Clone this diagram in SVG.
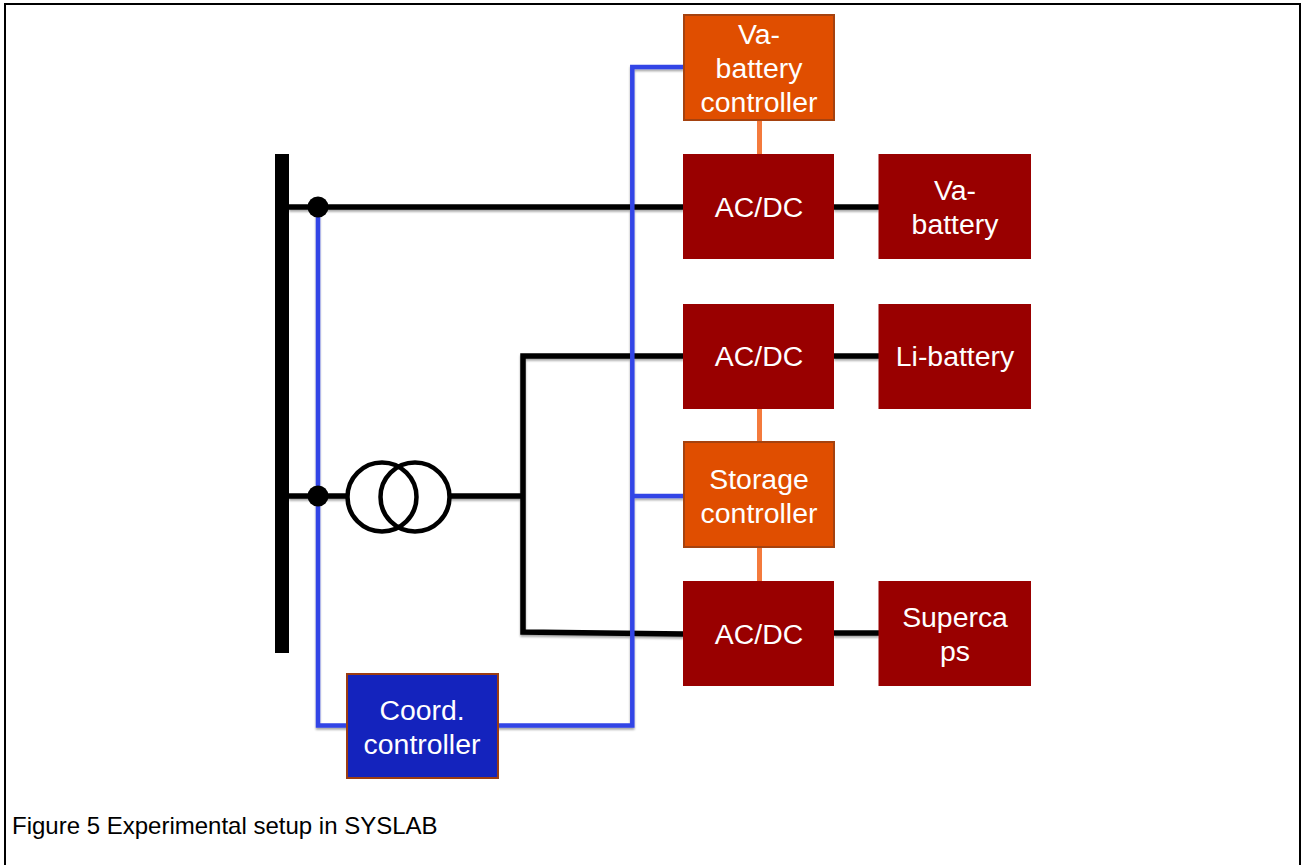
<svg xmlns="http://www.w3.org/2000/svg" width="1301" height="865" viewBox="0 0 1301 865">
<defs>
<filter id="sh" x="-5%" y="-5%" width="110%" height="110%"><feGaussianBlur in="SourceAlpha" stdDeviation="1.2"/><feOffset dx="0" dy="2"/><feComponentTransfer><feFuncA type="linear" slope="0.35"/></feComponentTransfer><feMerge><feMergeNode/><feMergeNode in="SourceGraphic"/></feMerge></filter>
</defs>
<style>
text{font-family:"Liberation Sans",Arial,sans-serif;fill:#fff;font-size:28.4px;text-anchor:middle}
.blk{fill:none;stroke:#000;stroke-width:5.5}
.blu{fill:none;stroke:#3344e6;stroke-width:4.5}
.org{fill:none;stroke:#f47a3c;stroke-width:5}
.red{fill:#990000}
.ctl{fill:#e04e00;stroke:#a5420f;stroke-width:2}
.cap{fill:#000;font-size:24px;text-anchor:start}
</style>
<rect width="1301" height="865" fill="#fff"/>
<path d="M5 865V4H1300V865" fill="none" stroke="#000" stroke-width="2"/>
<g id="connectors">
<g filter="url(#sh)">
<path class="blk" d="M289 207H684"/>
<path class="blk" d="M834 207H879"/>
<path class="blk" d="M289 496H348"/>
<path class="blk" d="M450 496H523"/>
<path class="blk" d="M684 356H523V632L684 634"/>
<path class="blk" d="M834 356H879"/>
<path class="blk" d="M834 633H879"/>
<path class="blu" d="M684 67H632.300V725.500H498"/>
<path class="blu" d="M632 496H684"/>
<path class="blu" d="M318 207V725.500H348"/>
</g>
<path class="org" d="M759.500 120V154"/>
<path class="org" d="M759.500 409V442"/>
<path class="org" d="M759.500 547V581"/>
</g>
<g id="busbar"><rect x="275" y="154" width="14" height="499" fill="#000"/></g>
<g id="junction-top"><circle cx="318" cy="207" r="10.500" fill="#000"/></g>
<g id="junction-bottom"><circle cx="318" cy="496" r="10.500" fill="#000"/></g>
<g id="transformer" fill="none" stroke="#000" stroke-width="4.500">
<circle cx="382" cy="497" r="34.500"/><circle cx="415" cy="497" r="34.500"/>
</g>
<g id="va-controller"><rect class="ctl" x="684" y="15" width="150" height="105"/>
<text x="759" y="44">Va-</text><text x="759" y="78">battery</text><text x="759" y="112">controller</text></g>
<g id="acdc-1"><rect class="red" x="683" y="154" width="151" height="105"/><text x="759" y="217">AC/DC</text></g>
<g id="va-battery"><rect class="red" x="878.500" y="154" width="152.500" height="105"/>
<text x="955" y="200">Va-</text><text x="955" y="234">battery</text></g>
<g id="acdc-2"><rect class="red" x="683" y="304" width="151" height="105"/><text x="759" y="366">AC/DC</text></g>
<g id="li-battery"><rect class="red" x="878.500" y="304" width="152.500" height="105"/><text x="955" y="366">Li-battery</text></g>
<g id="storage-controller"><rect class="ctl" x="684" y="442" width="150" height="105"/>
<text x="759" y="489">Storage</text><text x="759" y="523">controller</text></g>
<g id="acdc-3"><rect class="red" x="683" y="581" width="151" height="105"/><text x="759" y="644">AC/DC</text></g>
<g id="supercaps"><rect class="red" x="878.500" y="581" width="152.500" height="105"/>
<text x="955" y="627">Superca</text><text x="955" y="661">ps</text></g>
<g id="coord-controller"><rect x="347" y="674" width="151" height="104" fill="#1423bd" stroke="#9c3d12" stroke-width="2"/>
<text x="422" y="720">Coord.</text><text x="422" y="754">controller</text></g>
<text class="cap" x="12" y="834">Figure 5 Experimental setup in SYSLAB</text>
</svg>
